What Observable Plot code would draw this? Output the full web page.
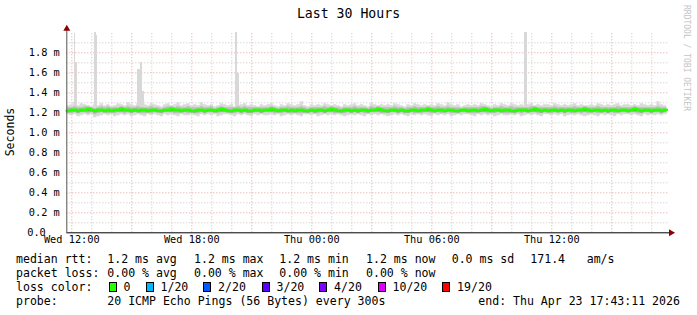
<!DOCTYPE html>
<html><head><meta charset="utf-8">
<script src="https://cdn.jsdelivr.net/npm/d3@7"></script>
<script src="https://cdn.jsdelivr.net/npm/@observablehq/plot@0.6"></script>
<style>
body{margin:0;background:#fff;}
#wrap{position:relative;width:697px;height:315px;overflow:hidden;font-family:"DejaVu Sans Mono",monospace;color:#000;background:#fff;}
#chart{position:absolute;left:0;top:0;}
.t{position:absolute;white-space:pre;font-size:11.55px;line-height:14px;}
.box{position:absolute;width:8px;height:10px;box-sizing:border-box;border:1px solid #000;}
#title{position:absolute;left:0;top:6px;width:697px;text-align:center;font-size:13.2px;line-height:16px;}
#ylab{position:absolute;left:10px;top:132px;font-size:11.55px;line-height:14px;transform:translate(-50%,-50%) rotate(-90deg);white-space:pre;}
#credit{position:absolute;left:686px;top:58px;font-size:8px;line-height:10px;color:#c4c4c4;transform:translate(-50%,-50%) rotate(90deg);white-space:pre;}
</style></head>
<body><div id="wrap"></div>
<script>
// ---- data (ms) at 10-minute steps, starting Wed 11:45 (hour -0.25 from Wed 12:00)
const median = [
1.22,1.23,1.23,1.22,1.23,1.23,1.24,1.23,1.22,1.23,1.23,1.22,
1.23,1.22,1.23,1.23,1.24,1.23,1.23,1.22,1.23,1.22,1.23,1.23,
1.22,1.23,1.23,1.22,1.22,1.23,1.23,1.24,1.23,1.23,1.22,1.23,
1.23,1.22,1.22,1.23,1.23,1.22,1.23,1.23,1.22,1.23,1.24,1.23,
1.22,1.22,1.23,1.23,1.22,1.23,1.22,1.22,1.23,1.23,1.22,1.23,
1.23,1.24,1.23,1.22,1.23,1.23,1.22,1.23,1.22,1.23,1.23,1.22,
1.22,1.23,1.22,1.23,1.23,1.22,1.23,1.24,1.23,1.22,1.22,1.23,
1.23,1.22,1.23,1.22,1.23,1.23,1.22,1.23,1.23,1.24,1.23,1.22,
1.22,1.23,1.23,1.22,1.23,1.22,1.22,1.23,1.23,1.22,1.23,1.23,
1.24,1.23,1.22,1.23,1.23,1.22,1.23,1.23,1.22,1.22,1.23,1.23,
1.22,1.23,1.23,1.22,1.23,1.24,1.23,1.22,1.23,1.23,1.22,1.23,
1.23,1.22,1.22,1.23,1.23,1.23,1.22,1.23,1.24,1.23,1.22,1.23,
1.22,1.23,1.23,1.22,1.23,1.22,1.23,1.23,1.22,1.23,1.23,1.24,
1.23,1.22,1.23,1.23,1.22,1.23,1.22,1.23,1.23,1.22,1.23,1.23,
1.22,1.23,1.24,1.23,1.22,1.23,1.23,1.22,1.23,1.23,1.22,1.23];
const smokeHi = [
1.27,1.28,1.30,1.27,1.29,1.28,1.27,1.26,1.28,1.27,1.29,1.27,
1.28,1.26,1.27,1.29,1.28,1.27,1.30,1.28,1.27,1.29,1.27,1.28,
1.27,1.29,1.28,1.27,1.26,1.28,1.29,1.27,1.28,1.30,1.27,1.28,
1.29,1.27,1.28,1.27,1.30,1.28,1.27,1.28,1.26,1.27,1.29,1.28,
1.27,1.28,1.26,1.27,1.28,1.29,1.27,1.28,1.27,1.26,1.28,1.27,
1.28,1.29,1.27,1.26,1.28,1.27,1.29,1.28,1.27,1.28,1.31,1.27,
1.26,1.28,1.27,1.28,1.27,1.29,1.28,1.27,1.28,1.27,1.26,1.28,
1.27,1.28,1.29,1.27,1.28,1.27,1.26,1.29,1.28,1.27,1.28,1.27,
1.28,1.27,1.29,1.28,1.27,1.26,1.28,1.27,1.29,1.28,1.27,1.28,
1.27,1.28,1.27,1.29,1.28,1.27,1.30,1.28,1.27,1.28,1.26,1.27,
1.28,1.27,1.28,1.27,1.29,1.28,1.27,1.26,1.28,1.27,1.29,1.28,
1.27,1.29,1.28,1.27,1.28,1.27,1.28,1.29,1.27,1.28,1.27,1.28,
1.28,1.27,1.29,1.28,1.27,1.28,1.27,1.28,1.29,1.27,1.28,1.27,
1.27,1.28,1.27,1.29,1.28,1.27,1.28,1.27,1.28,1.29,1.27,1.28,
1.28,1.27,1.28,1.27,1.29,1.28,1.27,1.28,1.27,1.31,1.28,1.27];
const smokeLo = [
1.18,1.17,1.18,1.16,1.17,1.18,1.17,1.18,1.15,1.16,1.17,1.18,
1.17,1.18,1.16,1.17,1.18,1.17,1.18,1.16,1.17,1.18,1.17,1.16,
1.18,1.17,1.18,1.17,1.16,1.18,1.17,1.18,1.17,1.16,1.18,1.17,
1.17,1.18,1.17,1.16,1.18,1.17,1.18,1.17,1.18,1.16,1.17,1.18,
1.18,1.17,1.16,1.18,1.17,1.18,1.17,1.16,1.18,1.17,1.18,1.17,
1.17,1.18,1.17,1.18,1.16,1.17,1.18,1.17,1.18,1.17,1.16,1.18,
1.18,1.17,1.18,1.16,1.17,1.18,1.17,1.18,1.17,1.18,1.17,1.16,
1.17,1.18,1.17,1.18,1.17,1.16,1.18,1.17,1.18,1.17,1.18,1.17,
1.16,1.17,1.18,1.17,1.18,1.17,1.16,1.18,1.17,1.18,1.17,1.18,
1.17,1.16,1.18,1.17,1.18,1.17,1.18,1.16,1.17,1.18,1.17,1.18,
1.18,1.17,1.16,1.18,1.17,1.18,1.17,1.18,1.16,1.17,1.18,1.17,
1.17,1.18,1.17,1.18,1.16,1.17,1.18,1.17,1.18,1.17,1.16,1.18,
1.18,1.17,1.18,1.17,1.18,1.16,1.17,1.18,1.17,1.18,1.17,1.16,
1.17,1.18,1.17,1.16,1.18,1.17,1.18,1.17,1.16,1.18,1.17,1.18,
1.18,1.17,1.18,1.17,1.16,1.18,1.17,1.18,1.17,1.18,1.17,1.18];
const midHi = [
1.25,1.25,1.26,1.25,1.25,1.26,1.26,1.25,1.24,1.25,1.26,1.25,
1.26,1.25,1.25,1.25,1.26,1.25,1.26,1.25,1.25,1.26,1.25,1.25,
1.25,1.26,1.25,1.25,1.24,1.25,1.26,1.26,1.25,1.26,1.25,1.25,
1.26,1.25,1.25,1.25,1.26,1.25,1.25,1.26,1.24,1.25,1.26,1.25,
1.25,1.25,1.25,1.26,1.25,1.26,1.25,1.25,1.25,1.25,1.25,1.25,
1.25,1.26,1.25,1.24,1.25,1.25,1.26,1.25,1.25,1.25,1.26,1.25,
1.24,1.25,1.25,1.25,1.25,1.26,1.25,1.26,1.25,1.25,1.24,1.25,
1.25,1.25,1.26,1.25,1.25,1.25,1.24,1.26,1.25,1.26,1.25,1.25,
1.25,1.25,1.26,1.25,1.25,1.24,1.25,1.25,1.26,1.25,1.25,1.25,
1.26,1.25,1.25,1.26,1.25,1.25,1.26,1.25,1.25,1.25,1.24,1.25,
1.25,1.25,1.25,1.25,1.26,1.26,1.25,1.24,1.25,1.25,1.26,1.25,
1.25,1.26,1.25,1.25,1.25,1.25,1.25,1.26,1.26,1.25,1.25,1.25,
1.25,1.25,1.26,1.25,1.25,1.25,1.25,1.25,1.26,1.25,1.25,1.26,
1.25,1.25,1.25,1.26,1.25,1.25,1.25,1.25,1.25,1.26,1.25,1.25,
1.25,1.25,1.26,1.25,1.25,1.25,1.25,1.25,1.25,1.26,1.25,1.25];
const midLo = [
1.20,1.19,1.20,1.19,1.20,1.20,1.19,1.20,1.18,1.19,1.20,1.20,
1.19,1.20,1.19,1.20,1.20,1.19,1.20,1.19,1.20,1.20,1.19,1.19,
1.20,1.19,1.20,1.20,1.19,1.20,1.20,1.20,1.19,1.19,1.20,1.20,
1.19,1.20,1.19,1.19,1.20,1.19,1.20,1.20,1.20,1.19,1.20,1.20,
1.20,1.19,1.19,1.20,1.19,1.20,1.19,1.19,1.20,1.20,1.19,1.20,
1.20,1.20,1.19,1.20,1.19,1.20,1.20,1.19,1.20,1.19,1.19,1.20,
1.19,1.20,1.19,1.19,1.20,1.19,1.20,1.20,1.19,1.20,1.19,1.19,
1.20,1.19,1.20,1.19,1.20,1.19,1.19,1.20,1.20,1.20,1.19,1.20,
1.19,1.20,1.20,1.19,1.20,1.19,1.19,1.20,1.19,1.20,1.19,1.20,
1.20,1.19,1.20,1.20,1.19,1.20,1.20,1.19,1.20,1.19,1.20,1.20,
1.20,1.19,1.19,1.20,1.20,1.20,1.19,1.20,1.19,1.20,1.20,1.19,
1.19,1.20,1.19,1.20,1.19,1.20,1.20,1.20,1.20,1.19,1.19,1.20,
1.20,1.19,1.20,1.20,1.20,1.19,1.20,1.19,1.20,1.20,1.19,1.20,
1.19,1.20,1.20,1.19,1.20,1.20,1.19,1.20,1.19,1.20,1.20,1.20,
1.20,1.20,1.20,1.19,1.19,1.20,1.20,1.19,1.20,1.20,1.19,1.20];
const darkLo = [
1.20,1.21,1.21,1.20,1.21,1.21,1.21,1.21,1.20,1.21,1.21,1.20,
1.21,1.20,1.21,1.21,1.21,1.21,1.21,1.20,1.21,1.20,1.21,1.21,
1.20,1.21,1.21,1.20,1.20,1.21,1.21,1.21,1.21,1.21,1.20,1.21,
1.21,1.20,1.20,1.21,1.21,1.20,1.21,1.21,1.20,1.21,1.21,1.21,
1.20,1.20,1.21,1.21,1.20,1.21,1.20,1.20,1.21,1.21,1.20,1.21,
1.21,1.21,1.21,1.20,1.21,1.21,1.20,1.21,1.20,1.21,1.21,1.20,
1.20,1.21,1.20,1.21,1.21,1.20,1.21,1.21,1.21,1.20,1.20,1.21,
1.21,1.20,1.21,1.20,1.21,1.21,1.20,1.21,1.21,1.21,1.21,1.20,
1.20,1.21,1.21,1.20,1.21,1.20,1.20,1.21,1.21,1.20,1.21,1.21,
1.21,1.21,1.20,1.21,1.21,1.20,1.21,1.21,1.20,1.20,1.21,1.21,
1.20,1.21,1.21,1.20,1.21,1.21,1.21,1.20,1.21,1.21,1.20,1.21,
1.21,1.20,1.20,1.21,1.21,1.21,1.20,1.21,1.21,1.21,1.20,1.21,
1.20,1.21,1.21,1.20,1.21,1.20,1.21,1.21,1.20,1.21,1.21,1.21,
1.21,1.20,1.21,1.21,1.20,1.21,1.20,1.21,1.21,1.20,1.21,1.21,
1.20,1.21,1.21,1.21,1.20,1.21,1.21,1.20,1.21,1.21,1.20,1.21];
// spikes (hours from Wed 12:00, top in ms)
const spikeStart = [0.135, 0.20, 1.135, 1.21, 3.285, 3.42, 3.535, 8.185, 8.30, 22.62];
const spikeEnd   = [0.20, 0.285, 1.21, 1.285, 3.42, 3.535, 3.635, 8.30, 8.385, 22.77];
const spikeTop   = [1.99, 1.70, 2.00, 1.97, 1.63, 1.70, 1.41, 2.00, 1.59, 2.00];

const xTickHours = [0, 6, 12, 18, 24];
const xTickLabels = ["Wed 12:00", "Wed 18:00", "Thu 00:00", "Thu 06:00", "Thu 12:00"];
const yTicks = [0.2, 0.4, 0.6, 0.8, 1.0, 1.2, 1.4, 1.6, 1.8];
const yTickLabels = ["0.2 m", "0.4 m", "0.6 m", "0.8 m", "1.0 m", "1.2 m", "1.4 m", "1.6 m", "1.8 m"];
const yZeroLabel = "0.0";

const titleText = "Last 30 Hours";
const yLabel = "Seconds";
const creditText = "RRDTOOL / TOBI OETIKER";
const rttStats = ["1.2 ms avg", "1.2 ms max", "1.2 ms min", "1.2 ms now", "0.0 ms sd", "171.4", "am/s"];
const lossStats = ["0.00 % avg", "0.00 % max", "0.00 % min", "0.00 % now"];
const lossLabels = ["0", "1/20", "2/20", "3/20", "4/20", "10/20", "19/20"];
const lossColors = ["#26ff00", "#00b8ff", "#0059ff", "#5e00ff", "#7e00ff", "#dd00ff", "#ff0000"];
const probeText = "20 ICMP Echo Pings (56 Bytes) every 300s";
const endText = "end: Thu Apr 23 17:43:11 2026";

// ---- build table
const step = 1 / 6, t0 = -0.25;
const rows = median.map((m, i) => ({t: t0 + i * step, med: m, lo: smokeLo[i], hi: smokeHi[i], mlo: midLo[i], mhi: midHi[i], dlo: darkLo[i]}));
rows.push({...rows[rows.length - 1], t: t0 + median.length * step});
const spikes = spikeStart.map((s, i) => ({x1: s, x2: spikeEnd[i], top: spikeTop[i]}));

const minorX = d3.range(0, 30, 1).filter(h => h % 3 !== 0);
const majorX = d3.range(0, 30, 3);
const minorY = [0.1, 0.3, 0.5, 0.7, 0.9, 1.1, 1.3, 1.5, 1.7, 1.9];
const majorY = yTicks;

const xDom = [-0.25, 29.85], yDom = [0, 2.02];
const chart = Plot.plot({
  width: 697, height: 250,
  marginLeft: 66.3, marginRight: 28.7, marginTop: 30.3, marginBottom: 17.7,
  style: {fontFamily: "DejaVu Sans Mono, monospace", fontSize: "10.3px", color: "#000", background: "transparent", overflow: "visible"},
  x: {domain: xDom, axis: null},
  y: {domain: yDom, axis: null},
  marks: [
    Plot.ruleX(minorX, {y1: 0, y2: 2.01, stroke: "#c4c4c4", strokeDasharray: "1,2"}),
    Plot.ruleY(minorY, {x1: xDom[0], x2: xDom[1], stroke: "#c4c4c4", strokeDasharray: "1,2"}),
    Plot.ruleX(majorX, {y1: 0, y2: 2.01, stroke: "#e4a0a0", strokeDasharray: "1,2"}),
    Plot.ruleY(majorY, {x1: xDom[0], x2: xDom[1], stroke: "#e4a0a0", strokeDasharray: "1,2"}),
    Plot.areaY(rows, {x: "t", y1: "lo", y2: "hi", curve: "step-after", fill: "#dadada"}),
    Plot.rectY(spikes, {x1: "x1", x2: "x2", y1: 1.25, y2: "top", fill: "#d8d8d8", shapeRendering: "crispEdges"}),
    Plot.areaY(rows, {x: "t", y1: "mlo", y2: "mhi", curve: "step-after", fill: "#bdbdbd"}),
    Plot.areaY(rows, {x: "t", y1: "dlo", y2: "med", curve: "step-after", fill: "#8c8484"}),
    Plot.line(rows, {x: "t", y: "med", curve: "step-after", stroke: lossColors[0], strokeWidth: 2.8}),
    Plot.axisX({ticks: xTickHours, tickFormat: d => xTickLabels[xTickHours.indexOf(d)], tickSize: 0, tickPadding: 3, fill: "#000"}),
    Plot.axisY({ticks: yTicks, tickFormat: d => yTickLabels[yTicks.indexOf(d)], tickSize: 0, tickPadding: 7, fill: "#000"}),
    Plot.axisY({ticks: [0], tickFormat: () => yZeroLabel, tickSize: 0, tickPadding: 21, fill: "#000"}),
    Plot.ruleY([0], {x1: xDom[0], x2: 29.95, stroke: "#000"}),
    Plot.ruleX([xDom[0]], {y1: 0, y2: 2.03, stroke: "#555"}),
    Plot.dot([0], {x: 29.96, y: 0, symbol: "triangle", r: 2.6, rotate: 90, fill: "#8b0000", stroke: "none"}),
    Plot.dot([0], {x: xDom[0], y: 2.04, symbol: "triangle", r: 2.6, fill: "#8b0000", stroke: "none"})
  ]
});
chart.id = "chart";
const wrap = document.getElementById("wrap");
wrap.appendChild(chart);

function addText(txt, left, center, cls = "t") {
  const d = document.createElement("div");
  d.className = cls; d.textContent = txt;
  d.style.left = left + "px"; d.style.top = (center - 7) + "px";
  wrap.appendChild(d); return d;
}
const title = document.createElement("div"); title.id = "title"; title.textContent = titleText; wrap.appendChild(title);
const yl = document.createElement("div"); yl.id = "ylab"; yl.textContent = yLabel; wrap.appendChild(yl);
const cr = document.createElement("div"); cr.id = "credit"; cr.textContent = creditText; wrap.appendChild(cr);

const colX = [107.3, 194, 279.3, 366, 451.7, 530.3, 586.7];
addText("median rtt:", 16, 259.3);
rttStats.forEach((s, i) => addText(s, colX[i], 259.3));
addText("packet loss:", 16, 273.3);
lossStats.forEach((s, i) => addText(s, colX[i], 273.3));
addText("loss color:", 16, 287.3);
const boxX = [108.7, 145.7, 203.3, 261.7, 319.3, 377.7, 442.3];
lossLabels.forEach((s, i) => {
  const b = document.createElement("div"); b.className = "box";
  b.style.left = boxX[i] + "px"; b.style.top = "282px"; b.style.background = lossColors[i];
  wrap.appendChild(b);
  addText(s, boxX[i] + 14.8, 287.3);
});
addText("probe:", 16, 301.3);
addText(probeText, 107.3, 301.3);
addText(endText, 478.3, 301.3);
</script></body></html>
